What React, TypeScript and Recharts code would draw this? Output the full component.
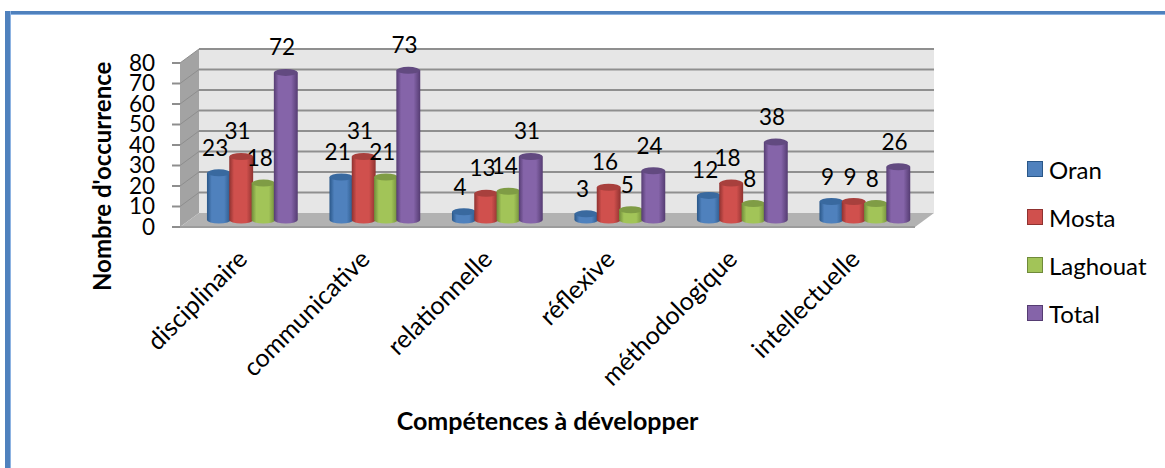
import { Bar, BarChart, CartesianGrid, LabelList, Legend, ReferenceArea, XAxis, YAxis } from 'recharts';

const categories = ['disciplinaire', 'communicative', 'relationnelle', 'réflexive', 'méthodologique', 'intellectuelle'];
const oran = [23, 21, 4, 3, 12, 9];
const mosta = [31, 31, 13, 16, 18, 9];
const laghouat = [18, 21, 14, 5, 8, 8];
const total = [72, 73, 31, 24, 38, 26];
const yTicks = [0, 10, 20, 30, 40, 50, 60, 70, 80];

const seriesList = [
  { key: 'Oran', values: oran, color: '#4f81bd', dark: '#2a5788', top: '#39699f' },
  { key: 'Mosta', values: mosta, color: '#d0504d', dark: '#8f3230', top: '#a8403d' },
  { key: 'Laghouat', values: laghouat, color: '#a2c458', dark: '#6f8a3a', top: '#7f9c45' },
  { key: 'Total', values: total, color: '#8564a9', dark: '#553c72', top: '#624a80' },
];

const rows = categories.map((name, i) => ({
  name,
  Oran: oran[i],
  Mosta: mosta[i],
  Laghouat: laghouat[i],
  Total: total[i],
}));

const FONT = 'Lato, sans-serif';
// how far the back wall and the bar row sit behind the front edge of the floor
const WALL_DX = 19;
const WALL_DY = 14;
const BAR_DX = 10.75;
const BAR_DY = 7;
const RY = 3.5;

const Walls = ({ x, y, width, height }: any) => {
  const bottom = y + height;
  const right = x + width;
  return (
    <g>
      <polygon
        points={`${x + WALL_DX},${y - WALL_DY} ${right + WALL_DX},${y - WALL_DY} ${right + WALL_DX},${bottom - WALL_DY} ${x + WALL_DX},${bottom - WALL_DY}`}
        fill="#e6e6e6"
      />
      <polygon
        points={`${x},${y} ${x + WALL_DX},${y - WALL_DY} ${x + WALL_DX},${bottom - WALL_DY} ${x},${bottom}`}
        fill="#a3a3a3"
      />
      <polygon
        points={`${x},${bottom} ${right},${bottom} ${right + WALL_DX},${bottom - WALL_DY} ${x + WALL_DX},${bottom - WALL_DY}`}
        fill="#b2b2b2"
      />
      <line x1={x} x2={right} y1={bottom} y2={bottom} stroke="#9c9c9c" strokeWidth={2} />
    </g>
  );
};

const WallLine = ({ x1, y1, x2, y2, index }: any) => {
  if (index === 0) return <g />;
  return (
    <g>
      <line x1={x1} y1={y1} x2={x1 + WALL_DX} y2={y1 - WALL_DY} stroke="#8e8e8e" strokeWidth={1} />
      <line x1={x1 + WALL_DX} y1={y1 - WALL_DY} x2={x2 + WALL_DX} y2={y2 - WALL_DY} stroke="#8f8f8f" strokeWidth={2} />
    </g>
  );
};

const Cylinder = ({ x, y, width, height, seriesKey }: any) => {
  const s = seriesList.find(item => item.key === seriesKey)!;
  const left = x + BAR_DX - 0.8;
  const w = width + 1.6;
  const rx = w / 2;
  const top = y - BAR_DY;
  const base = y + height - BAR_DY;
  return (
    <g>
      <path
        d={`M${left},${top} L${left},${base} A${rx},${RY} 0 0 0 ${left + w},${base} L${left + w},${top} Z`}
        fill={`url(#cyl-${seriesKey})`}
      />
      <ellipse cx={left + rx} cy={top} rx={rx} ry={RY} fill={s.top} />
    </g>
  );
};

const ValueLabel = ({ x, y, width, value }: any) => (
  <text
    x={x + width / 2 + 7}
    y={y - 24}
    textAnchor="middle"
    fontFamily={FONT}
    fontSize={22.5}
    fill="#000"
  >
    {value}
  </text>
);

const LegendList = () => (
  <div style={{ fontFamily: FONT, fontSize: 24, color: '#000' }}>
    {seriesList.map(s => (
      <div key={s.key} style={{ height: 48, display: 'flex', alignItems: 'center' }}>
        <span
          style={{
            width: 16,
            height: 16,
            boxSizing: 'border-box',
            background: s.color,
            border: `1.5px solid ${s.dark}`,
            marginRight: 6,
          }}
        />
        {s.key}
      </div>
    ))}
  </div>
);

export default function App() {
  return (
    <div style={{ position: 'absolute', left: 0, top: 0, width: 1165, height: 468, background: '#fff' }}>
      {/* frame around the figure */}
      <div style={{ position: 'absolute', left: 5, top: 11, right: 0, height: 3, background: '#4f81bd', borderBottom: '1px solid #8db3e2' }} />
      <div style={{ position: 'absolute', left: 5, top: 11, bottom: 0, width: 5, background: '#4f81bd', borderRight: '1px solid #8db3e2' }} />
      <div style={{ position: 'absolute', left: 0, top: 0 }}>
        <BarChart
          width={1165}
          height={468}
          data={rows}
          margin={{ top: 63, right: 250, bottom: 0, left: 0 }}
          barSize={22.3}
          barGap={0}
        >
          <defs>
            {seriesList.map(s => (
              <linearGradient key={s.key} id={`cyl-${s.key}`} x1="0" x2="1" y1="0" y2="0">
                <stop offset="0%" stopColor={s.dark} />
                <stop offset="20%" stopColor={s.color} />
                <stop offset="72%" stopColor={s.color} />
                <stop offset="100%" stopColor={s.dark} />
              </linearGradient>
            ))}
          </defs>
          <ReferenceArea y1={0} y2={80} shape={<Walls />} fillOpacity={1} zIndex={-200} />
          <CartesianGrid vertical={false} horizontal={(p: any) => <WallLine {...p} />} />
          <XAxis
            dataKey="name"
            height={241}
            interval={0}
            axisLine={false}
            tickLine={false}
            angle={-45}
            textAnchor="end"
            tick={{ fontFamily: FONT, fontSize: 25, fill: '#000', dx: -5, dy: 13 }}
            label={{
              value: 'Compétences à développer',
              position: 'insideBottom',
              offset: 38,
              fontFamily: FONT,
              fontSize: 25,
              fontWeight: 700,
              fill: '#000',
            }}
          />
          <YAxis
            domain={[0, 80]}
            ticks={yTicks}
            width={180}
            axisLine={false}
            tickSize={8}
            tickMargin={17}
            interval={0}
            tickLine={{ stroke: '#8e8e8e', strokeWidth: 2 }}
            tick={{ fontFamily: FONT, fontSize: 22.5, fill: '#000' }}
            label={{
              value: "Nombre d'occurrence",
              angle: -90,
              position: 'insideLeft',
              dx: 97,
              dy: 146,
              fontFamily: FONT,
              fontSize: 24,
              fontWeight: 700,
              fill: '#000',
            }}
          />
          {seriesList.map(s => (
            <Bar
              key={s.key}
              dataKey={s.key}
              fill={s.color}
              isAnimationActive={false}
              shape={(p: any) => <Cylinder {...p} seriesKey={s.key} />}
            >
              <LabelList dataKey={s.key} content={<ValueLabel />} />
            </Bar>
          ))}
          <Legend
            layout="vertical"
            align="center"
            verticalAlign="middle"
            content={<LegendList />}
            wrapperStyle={{ left: 1027, top: 145, width: 130 }}
          />
        </BarChart>
      </div>
    </div>
  );
}
